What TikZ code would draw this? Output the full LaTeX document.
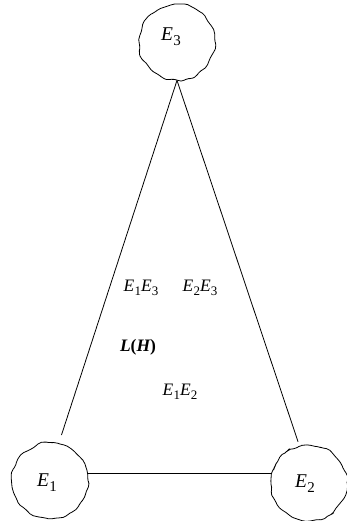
\documentclass[tikz,border=0pt]{standalone}
\usepackage{fontspec}
\setmainfont{Liberation Serif}
\usetikzlibrary{decorations.pathmorphing}
\newcommand{\Ev}[1]{\textit{E}\kern0.3pt\raisebox{-0.25em}{\fontsize{13}{14}\selectfont #1}}
\newcommand{\Evb}[1]{\textit{E}\kern0.5pt\raisebox{-0.25em}{\fontsize{15}{16}\selectfont #1}}
\begin{document}
\begin{tikzpicture}[x=1pt,y=-1pt,
  font=\fontsize{17.5}{20}\selectfont,
  vert/.style={circle,draw,line width=0.8pt,minimum size=76pt,inner sep=0pt,
    decorate,decoration={random steps,segment length=5pt,amplitude=1.4pt},rounded corners=2pt},
  vlabel/.style={font=\fontsize{19.5}{22}\selectfont,inner sep=0pt},
  edge/.style={draw,line width=0.8pt}]
\pgfmathsetseed{7}
\useasboundingbox (0,0) rectangle (346,521);
\node[vert] (E3) at (177,42) {};
\node[vert] (E1) at (50,481) {};
\node[vert] (E2) at (309,483) {};
\node[vlabel] (t3) at (171,37) {\Evb{3}};
\node[vlabel] (t1) at (47,483) {\Evb{1}};
\node[vlabel] (t2) at (305,484) {\Evb{2}};
\draw[edge,shorten >=8pt] (E3.south) -- ([xshift=9pt]E1.north);
\draw[edge,shorten >=3pt] (E3.south) -- ([xshift=-10pt]E2.north);
\draw[edge] ([yshift=8pt]E1.east) -- ([yshift=10pt]E2.west);
\node (l13) at (141,288) {\Ev{1}\Ev{3}};
\node (l23) at (200,288) {\Ev{2}\Ev{3}};
\node (lh) at (138,347) {\bfseries\itshape L\upshape(\itshape H\upshape)};
\node (l12) at (180,392) {\Ev{1}\Ev{2}};
\end{tikzpicture}
\end{document}
